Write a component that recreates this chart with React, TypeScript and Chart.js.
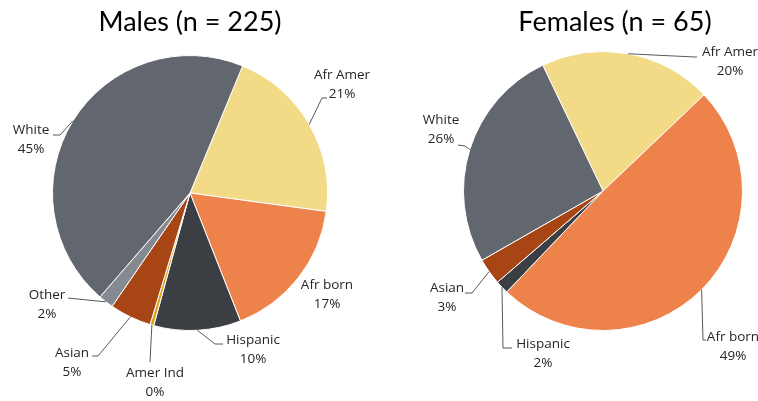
import React, { useEffect, useRef } from "react";
import { Chart, registerables } from "chart.js";

Chart.register(...registerables);

// ---- Data ----
const maleCategories = ["Afr Amer", "Afr born", "Hispanic", "Amer Ind", "Asian", "Other", "White"];
const maleCounts = [47, 38, 23, 1, 11, 4, 101];
const maleColors = ["#F2DA86", "#ED834B", "#3B3E43", "#D9A520", "#A84515", "#858A90", "#62676F"];

const femaleCategories = ["Afr Amer", "Afr born", "Hispanic", "Asian", "White"];
const femaleCounts = [13, 32, 1, 2, 17];
const femaleColors = ["#F2DA86", "#ED834B", "#3B3E43", "#A84515", "#62676F"];

const maleTitle = "Males (n = 225)";
const femaleTitle = "Females (n = 65)";

// ---- Label layout (relative to pie centre, pixels) ----
type LabelLayout = { dx: number; dy: number; leader: number[][] | null };

const maleLabelLayout: LabelLayout[] = [
  { dx: 152, dy: -118, leader: [[132, -95], [137, -95]] },
  { dx: 137, dy: 92, leader: null },
  { dx: 63, dy: 147, leader: [[25, 151], [33, 151]] },
  { dx: -35, dy: 180, leader: [[-40, 169]] },
  { dx: -118, dy: 160, leader: [[-92, 163], [-98, 163]] },
  { dx: -143, dy: 102, leader: [[-93, 108], [-122, 105]] },
  { dx: -159, dy: -63, leader: [[-130, -58], [-137, -58]] },
];

const femaleLabelLayout: LabelLayout[] = [
  { dx: 127, dy: -139, leader: [[92, -134], [94, -134]] },
  { dx: 130, dy: 146, leader: [[100, 149], [103, 149]] },
  { dx: -60, dy: 153, leader: [[-100, 157], [-91, 157]] },
  { dx: -156, dy: 97, leader: [[-131, 102], [-138, 102]] },
  { dx: -162, dy: -71, leader: [[-138, -45], [-145, -46]] },
];

const FONT = "'Open Sans', 'Noto Sans', sans-serif";
const TITLE_FONT = "Lato, 'Open Sans', sans-serif";
const TEXT_COLOR = "#262626";

const labelPlugin = {
  id: "pieLabels",
  afterDraw(chart: any, _args: any, opts: any) {
    const ctx = chart.ctx as CanvasRenderingContext2D;
    const meta = chart.getDatasetMeta(0);
    const data: number[] = chart.data.datasets[0].data;
    const labels: string[] = chart.data.labels;
    const total = data.reduce((a, b) => a + b, 0);
    const layout: LabelLayout[] = opts.layout;
    ctx.save();
    // title
    const first = meta.data[0];
    const cx0 = first.x;
    ctx.font = `27px ${TITLE_FONT}`;
    ctx.fillStyle = "#000";
    ctx.textAlign = "center";
    ctx.textBaseline = "middle";
    ctx.fillText(opts.title, cx0 + opts.titleDx, opts.titleY);

    meta.data.forEach((arc: any, i: number) => {
      const p = arc.getProps(["x", "y", "startAngle", "endAngle", "outerRadius"], true);
      const mid = (p.startAngle + p.endAngle) / 2;
      const ax = p.x + Math.cos(mid) * p.outerRadius;
      const ay = p.y + Math.sin(mid) * p.outerRadius;
      const L = layout[i];
      if (!L) return;
      if (L.leader) {
        ctx.beginPath();
        ctx.moveTo(ax, ay);
        L.leader.forEach(([dx, dy]) => ctx.lineTo(p.x + dx, p.y + dy));
        ctx.strokeStyle = "#595959";
        ctx.lineWidth = 1;
        ctx.stroke();
      }
      const pct = Math.round((data[i] / total) * 100) + "%";
      ctx.font = `13.5px ${FONT}`;
      ctx.fillStyle = TEXT_COLOR;
      ctx.textAlign = "center";
      ctx.textBaseline = "middle";
      ctx.fillText(labels[i], p.x + L.dx, p.y + L.dy);
      ctx.fillText(pct, p.x + L.dx, p.y + L.dy + 19.5);
    });
    ctx.restore();
  },
};

function PieCanvas(props: {
  labels: string[];
  values: number[];
  colors: string[];
  rotation: number;
  width: number;
  left: number;
  padding: { left: number; right: number; top: number; bottom: number };
  layout: LabelLayout[];
  title: string;
  titleDx: number;
}) {
  const ref = useRef<HTMLCanvasElement | null>(null);
  useEffect(() => {
    if (!ref.current) return;
    const chart = new Chart(ref.current, {
      type: "pie",
      data: {
        labels: props.labels,
        datasets: [
          {
            data: props.values,
            backgroundColor: props.colors,
            borderColor: "#ffffff",
            borderWidth: 1,
          },
        ],
      },
      options: {
        responsive: false,
        animation: false,
        devicePixelRatio: 1,
        rotation: props.rotation,
        layout: { padding: props.padding },
        plugins: {
          legend: { display: false },
          tooltip: { enabled: false },
          pieLabels: { layout: props.layout, title: props.title, titleDx: props.titleDx, titleY: 22 },
        } as any,
      },
      plugins: [labelPlugin],
    });
    return () => chart.destroy();
  }, []);
  return (
    <canvas
      ref={ref}
      width={props.width}
      height={401}
      style={{ position: "absolute", left: props.left, top: 0, width: props.width, height: 401 }}
    />
  );
}

export default function App() {
  return (
    <div style={{ position: "fixed", left: 0, top: 0, width: 758, height: 401, background: "#fff", overflow: "hidden" }}>
      <PieCanvas
        labels={maleCategories}
        values={maleCounts}
        colors={maleColors}
        rotation={22.5}
        width={380}
        left={0}
        padding={{ left: 52, right: 52, top: 55, bottom: 70 }}
        layout={maleLabelLayout}
        title={maleTitle}
        titleDx={0}
      />
      <PieCanvas
        labels={femaleCategories}
        values={femaleCounts}
        colors={femaleColors}
        rotation={-25.6}
        width={378}
        left={380}
        padding={{ left: 83, right: 15, top: 51, bottom: 70 }}
        layout={femaleLabelLayout}
        title={femaleTitle}
        titleDx={12}
      />
    </div>
  );
}
